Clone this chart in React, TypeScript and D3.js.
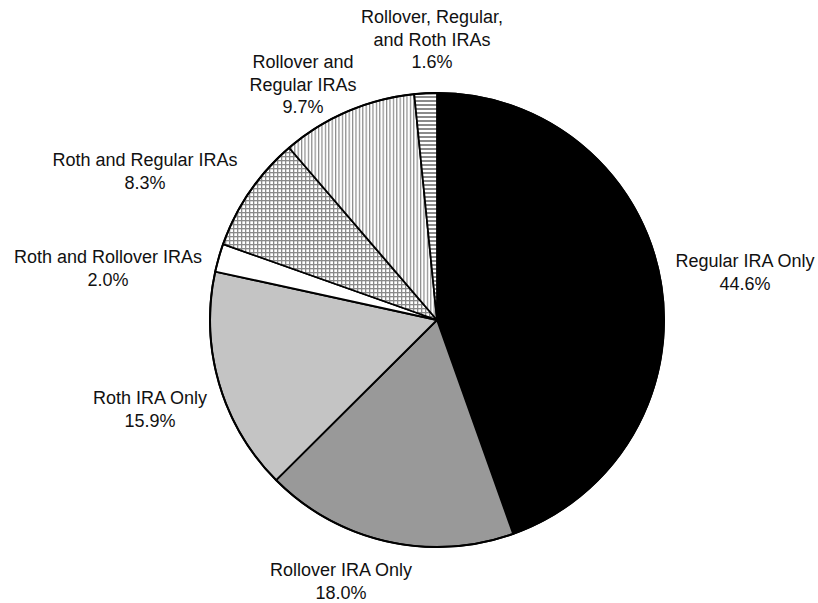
import React from "react";
import * as d3 from "d3";

const categories = [
  "Regular IRA Only",
  "Rollover IRA Only",
  "Roth IRA Only",
  "Roth and Rollover IRAs",
  "Roth and Regular IRAs",
  "Rollover and Regular IRAs",
  "Rollover, Regular, and Roth IRAs",
];
const values = [44.6, 18.0, 15.9, 2.0, 8.3, 9.7, 1.6];
const labelLines = [
  ["Regular IRA Only"],
  ["Rollover IRA Only"],
  ["Roth IRA Only"],
  ["Roth and Rollover IRAs"],
  ["Roth and Regular IRAs"],
  ["Rollover and", "Regular IRAs"],
  ["Rollover, Regular,", "and Roth IRAs"],
];
// label anchor (center x, first baseline y) in page pixels
const labelPos: [number, number][] = [
  [745, 267],
  [341, 576],
  [150, 404],
  [108, 263],
  [145, 166],
  [303, 68],
  [432, 23],
];
const fills = [
  "#000000",
  "#999999",
  "#c4c4c4",
  "#ffffff",
  "url(#crosshatch)",
  "url(#vlines)",
  "url(#hlines)",
];

const W = 818;
const H = 603;
const cx = 437;
const cy = 320;
const R = 227;
const LH = 22.5;

export default function App() {
  const pie = d3
    .pie<number>()
    .sort(null)
    .value((d) => d)
    .startAngle(0)
    .endAngle(2 * Math.PI);
  const arcs = pie(values);
  const arc = d3.arc<d3.PieArcDatum<number>>().innerRadius(0).outerRadius(R);

  return (
    <svg
      width={W}
      height={H}
      style={{ position: "absolute", left: 0, top: 0, background: "#fff" }}
      fontFamily="'Liberation Sans', Arial, Helvetica, sans-serif"
    >
      <defs>
        <pattern id="crosshatch" width={4} height={4} patternUnits="userSpaceOnUse">
          <rect width={4} height={4} fill="#fff" />
          <rect x={0} y={0} width={1.3} height={4} fill="#8a8a8a" />
          <rect x={0} y={0} width={4} height={1.3} fill="#8a8a8a" />
        </pattern>
        <pattern id="vlines" width={3.4} height={4} patternUnits="userSpaceOnUse">
          <rect width={3.4} height={4} fill="#fff" />
          <rect x={0} y={0} width={1.2} height={4} fill="#8a8a8a" />
        </pattern>
        <pattern id="hlines" width={4} height={4} patternUnits="userSpaceOnUse">
          <rect width={4} height={4} fill="#fff" />
          <rect x={0} y={0} width={4} height={2} fill="#8a8a8a" />
        </pattern>
      </defs>
      <g transform={`translate(${cx},${cy})`}>
        {arcs.map((a, i) => (
          <path
            key={categories[i]}
            d={arc(a) || ""}
            fill={fills[i]}
            stroke="#000"
            strokeWidth={1.8}
            strokeLinejoin="round"
          />
        ))}
        <circle r={R} fill="none" stroke="#000" strokeWidth={2} />
      </g>
      {arcs.map((a, i) => {
        const [x, y] = labelPos[i];
        const lines = [...labelLines[i], `${values[i].toFixed(1)}%`];
        return (
          <text key={"l" + i} x={x} y={y} textAnchor="middle" fontSize={18} fill="#111">
            {lines.map((t, j) => (
              <tspan key={j} x={x} y={y + j * LH}>
                {t}
              </tspan>
            ))}
          </text>
        );
      })}
    </svg>
  );
}
